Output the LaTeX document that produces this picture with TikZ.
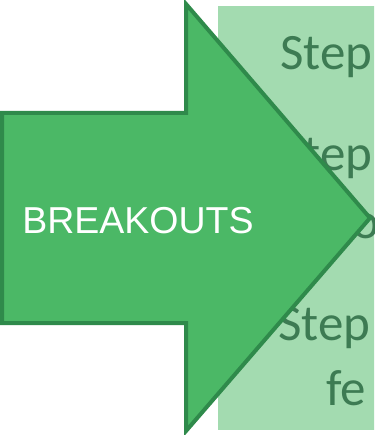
\documentclass[tikz,border=0pt]{standalone}
\usepackage{fontspec}
\setmainfont{Liberation Sans}
\newfontfamily\stepfont{Carlito}
\definecolor{arrowfill}{HTML}{4BB866}
\definecolor{arrowline}{HTML}{2F8A4B}
\definecolor{panelfill}{HTML}{A3DBB0}
\definecolor{steptext}{HTML}{3D7B53}
\tikzset{
  steptxt/.style={anchor=base west, inner sep=0pt, text=steptext, font=\stepfont\fontsize{51}{61}\selectfont},
  arrowshape/.style={fill=arrowfill, draw=arrowline, line width=4pt, line join=miter},
}
\begin{document}
\begin{tikzpicture}[x=1pt,y=-1pt]
\useasboundingbox (0,0) rectangle (374,435);
\begin{scope}
\clip (0,0) rectangle (374,435);
\fill[panelfill] (218,6) rectangle (380,430);
\node[steptxt] (s1) at (280,70) {Step};
\node[steptxt] (s2) at (280,171) {Step};
\node[steptxt] (s3) at (352,238) {o};
\node[steptxt] (s4) at (278,340) {Step};
\node[steptxt] (s5) at (326,405) {fe};
\draw[arrowshape] (2,113) -- (186,113) -- (186,4) -- (370,218) -- (186,431) -- (186,323) -- (2,323) -- cycle;
\end{scope}
\node[text=white, font=\fontsize{37.5}{42}\selectfont, inner sep=0pt, anchor=base] (lbl) at (138,233) {BREAKOUTS};
\end{tikzpicture}
\end{document}
